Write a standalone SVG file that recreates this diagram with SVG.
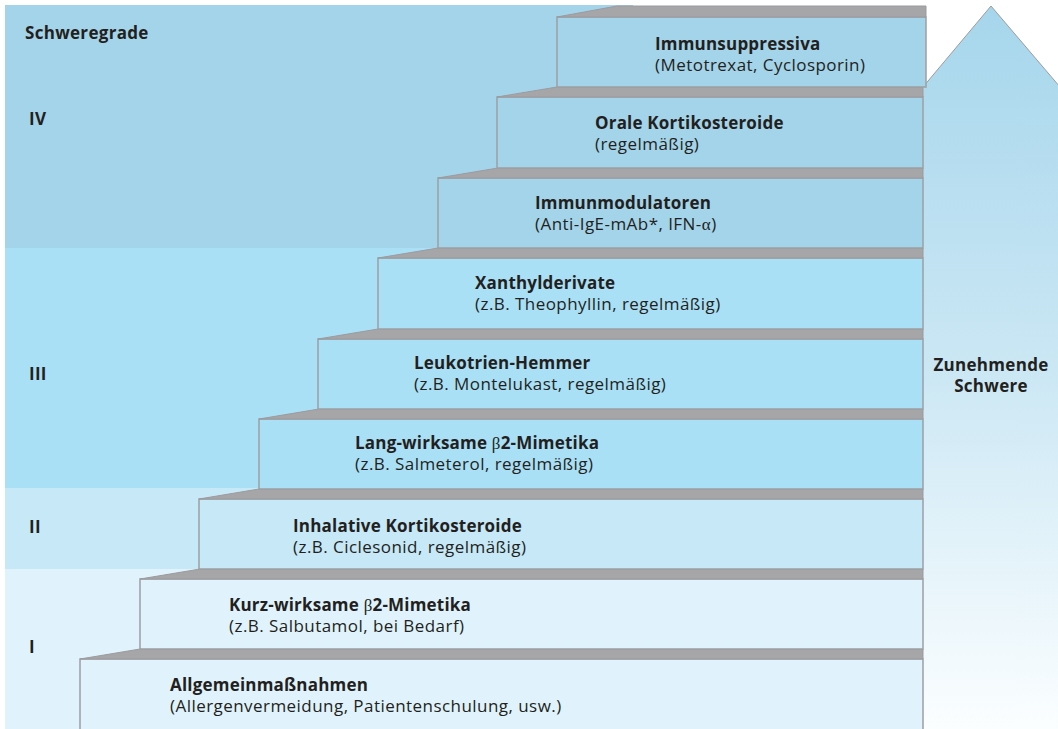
<svg xmlns="http://www.w3.org/2000/svg" width="1058" height="729" viewBox="0 0 1058 729">
  <defs>
    <linearGradient id="arrowFill" x1="0" y1="0" x2="0" y2="1">
      <stop offset="0" stop-color="#a6d6ec"/>
      <stop offset="0.5" stop-color="#cbe7f4"/>
      <stop offset="1" stop-color="#fbfeff"/>
    </linearGradient>
    <style>
      text { font-family: "Open Sans", "Noto Sans", "Liberation Sans", sans-serif; fill: #231f20; }
      .t { font-size: 17px; font-weight: bold; letter-spacing: 0.2px; }
      .s { font-size: 17px; letter-spacing: 0.45px; }
      .g { font-size: 17px; font-weight: bold; letter-spacing: 0.3px; }
      .greek { font-family: "Liberation Serif", "DejaVu Serif", serif; font-weight: normal; font-size: 17px; }
      .cap { fill: #a6a6a9; stroke: #9b9b9e; stroke-width: 1; }
      .face { stroke: #9d9fa2; stroke-width: 1.5; }
      .b4 { fill: #a3d4ea; }
      .b3 { fill: #aae0f6; }
      .b2 { fill: #c6e8f7; }
      .b1 { fill: #e0f3fc; }
    </style>
  </defs>

  <rect width="1058" height="729" fill="#ffffff"/>

  <!-- severity bands -->
  <g id="bands">
    <rect class="b4" x="5" y="5" width="628" height="243"/>
    <rect class="b4" x="5" y="17" width="918" height="231"/>
    <rect class="b3" x="5" y="248" width="918" height="240"/>
    <rect class="b2" x="5" y="488" width="918" height="81"/>
    <rect class="b1" x="5" y="569" width="918" height="160"/>
  </g>

  <!-- severity arrow -->
  <g id="arrow">
    <polygon points="923,87 991,6 1060,87 1060,729 923,729" fill="url(#arrowFill)"/>
    <polyline points="923,87 991,6 1060,87" fill="none" stroke="#9c9c9f" stroke-width="1"/>
    <text class="g" x="991" y="371" text-anchor="middle">Zunehmende</text>
    <text class="g" x="991" y="392" text-anchor="middle">Schwere</text>
  </g>

  <!-- staircase of therapy steps, bottom to top -->
  <g id="step1">
    <rect class="face b1" x="80" y="659" width="843" height="80"/>
    <polygon class="cap" points="80,659 140,649 923,649 923,659"/>
    <text class="t" x="170" y="691">Allgemeinmaßnahmen</text>
    <text class="s" x="170" y="712">(Allergenvermeidung, Patientenschulung, usw.)</text>
  </g>
  <g id="step2">
    <rect class="face b1" x="140" y="579" width="783" height="70"/>
    <polygon class="cap" points="140,579 200,569 923,569 923,579"/>
    <text class="t" x="229" y="611">Kurz-wirksame <tspan class="greek">β</tspan>2-Mimetika</text>
    <text class="s" x="229" y="632">(z.B. Salbutamol, bei Bedarf)</text>
  </g>
  <g id="step3">
    <rect class="face b2" x="199" y="499" width="724" height="70"/>
    <polygon class="cap" points="199,499 259,489 923,489 923,499"/>
    <text class="t" x="293" y="532">Inhalative Kortikosteroide</text>
    <text class="s" x="293" y="553">(z.B. Ciclesonid, regelmäßig)</text>
  </g>
  <g id="step4">
    <rect class="face b3" x="259" y="419" width="664" height="70"/>
    <polygon class="cap" points="259,419 319,409 923,409 923,419"/>
    <text class="t" x="355" y="449">Lang-wirksame <tspan class="greek">β</tspan>2-Mimetika</text>
    <text class="s" x="355" y="470">(z.B. Salmeterol, regelmäßig)</text>
  </g>
  <g id="step5">
    <rect class="face b3" x="318" y="339" width="605" height="70"/>
    <polygon class="cap" points="318,339 378,329 923,329 923,339"/>
    <text class="t" x="414" y="369">Leukotrien-Hemmer</text>
    <text class="s" x="414" y="390">(z.B. Montelukast, regelmäßig)</text>
  </g>
  <g id="step6">
    <rect class="face b3" x="378" y="258" width="545" height="71"/>
    <polygon class="cap" points="378,258 438,248 923,248 923,258"/>
    <text class="t" x="475" y="289">Xanthylderivate</text>
    <text class="s" x="475" y="310">(z.B. Theophyllin, regelmäßig)</text>
  </g>
  <g id="step7">
    <rect class="face b4" x="438" y="178" width="485" height="70"/>
    <polygon class="cap" points="438,178 498,168 923,168 923,178"/>
    <text class="t" x="535" y="209">Immunmodulatoren</text>
    <text class="s" x="535" y="230">(Anti-IgE-mAb*, IFN-<tspan class="greek">α</tspan>)</text>
  </g>
  <g id="step8">
    <rect class="face b4" x="497" y="97" width="426" height="71"/>
    <polygon class="cap" points="497,97 557,87 923,87 923,97"/>
    <text class="t" x="595" y="129">Orale Kortikosteroide</text>
    <text class="s" x="595" y="150">(regelmäßig)</text>
  </g>
  <g id="step9">
    <rect class="face b4" x="557" y="17" width="369" height="70"/>
    <polygon class="cap" points="557,17 617,6 926,6 926,17"/>
    <text class="t" x="655" y="50">Immunsuppressiva</text>
    <text class="s" x="655" y="71">(Metotrexat, Cyclosporin)</text>
  </g>

  <!-- grade labels -->
  <g id="grades">
    <text class="g" x="25" y="39">Schweregrade</text>
    <text class="g" x="29" y="125">IV</text>
    <text class="g" x="29" y="380">III</text>
    <text class="g" x="29" y="533">II</text>
    <text class="g" x="29" y="653">I</text>
  </g>
</svg>
